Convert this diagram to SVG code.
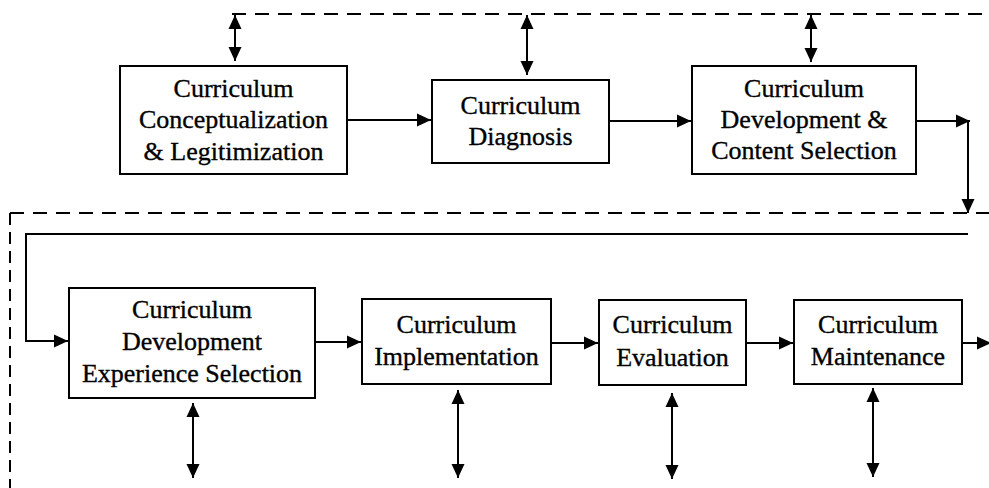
<svg xmlns="http://www.w3.org/2000/svg" width="989" height="488" viewBox="0 0 989 488">
<style>
.box{fill:#fff;stroke:#000;stroke-width:2}
.t{font-family:"Liberation Serif","Times New Roman",serif;font-size:26px;fill:#000;stroke:#000;stroke-width:0.35;text-anchor:middle}
.c{fill:none;stroke:#000;stroke-width:2}
.d{fill:none;stroke:#000;stroke-width:2;stroke-dasharray:14 9}
.dv{fill:none;stroke:#000;stroke-width:2;stroke-dasharray:12 7}
.a{marker-end:url(#ah)}
.b{marker-start:url(#ah);marker-end:url(#ah)}
</style>
<defs>
<marker id="ah" markerUnits="userSpaceOnUse" markerWidth="15" markerHeight="14" refX="14" refY="6.5" orient="auto-start-reverse" viewBox="0 0 15 13">
<path d="M0,0 L14,6.5 L0,13 z" fill="#000"/>
</marker>
</defs>
<rect width="989" height="488" fill="#fff"/>
<g id="connectors">
<path class="d" d="M232,14 H989"/>
<path class="d" d="M10,213 H989"/>
<path class="dv" d="M10,213 V488"/>
<line class="c b" x1="235" y1="15" x2="235" y2="61"/>
<line class="c b" x1="527" y1="15" x2="527" y2="75"/>
<line class="c b" x1="811" y1="15" x2="811" y2="62"/>
<line class="c a" x1="347" y1="120" x2="431" y2="120"/>
<line class="c a" x1="609" y1="121" x2="691" y2="121"/>
<line class="c a" x1="916" y1="121" x2="970" y2="121"/>
<line class="c a" x1="968" y1="121" x2="968" y2="213"/>
<path class="c a" d="M968,234 H26 V341 H68"/>
<line class="c a" x1="315" y1="342" x2="361" y2="342"/>
<line class="c a" x1="551" y1="343" x2="598" y2="343"/>
<line class="c a" x1="746" y1="343" x2="793" y2="343"/>
<line class="c a" x1="962" y1="343" x2="991" y2="343"/>
<line class="c b" x1="193" y1="403" x2="193" y2="478"/>
<line class="c b" x1="458" y1="390" x2="458" y2="478"/>
<line class="c b" x1="672" y1="393" x2="672" y2="479"/>
<line class="c b" x1="873" y1="388" x2="873" y2="477"/>
</g>
<g id="n1">
<rect class="box" x="120" y="66" width="227" height="108"/>
<text class="t" x="233.5" y="97">Curriculum</text>
<text class="t" x="233.5" y="128">Conceptualization</text>
<text class="t" x="233.5" y="160">&amp; Legitimization</text>
</g>
<g id="n2">
<rect class="box" x="432" y="80" width="177" height="83"/>
<text class="t" x="520.5" y="114">Curriculum</text>
<text class="t" x="520.5" y="145">Diagnosis</text>
</g>
<g id="n3">
<rect class="box" x="692" y="66" width="224" height="108"/>
<text class="t" x="804" y="97">Curriculum</text>
<text class="t" x="804" y="128">Development &amp;</text>
<text class="t" x="804" y="159">Content Selection</text>
</g>
<g id="n4">
<rect class="box" x="69" y="288" width="246" height="110"/>
<text class="t" x="192" y="318">Curriculum</text>
<text class="t" x="192" y="350">Development</text>
<text class="t" x="192" y="382">Experience Selection</text>
</g>
<g id="n5">
<rect class="box" x="362" y="299" width="189" height="85"/>
<text class="t" x="456.5" y="333">Curriculum</text>
<text class="t" x="456.5" y="365">Implementation</text>
</g>
<g id="n6">
<rect class="box" x="599" y="300" width="147" height="85"/>
<text class="t" x="672.5" y="333">Curriculum</text>
<text class="t" x="672.5" y="366">Evaluation</text>
</g>
<g id="n7">
<rect class="box" x="794" y="300" width="168" height="84"/>
<text class="t" x="878" y="333">Curriculum</text>
<text class="t" x="878" y="365">Maintenance</text>
</g>
</svg>
